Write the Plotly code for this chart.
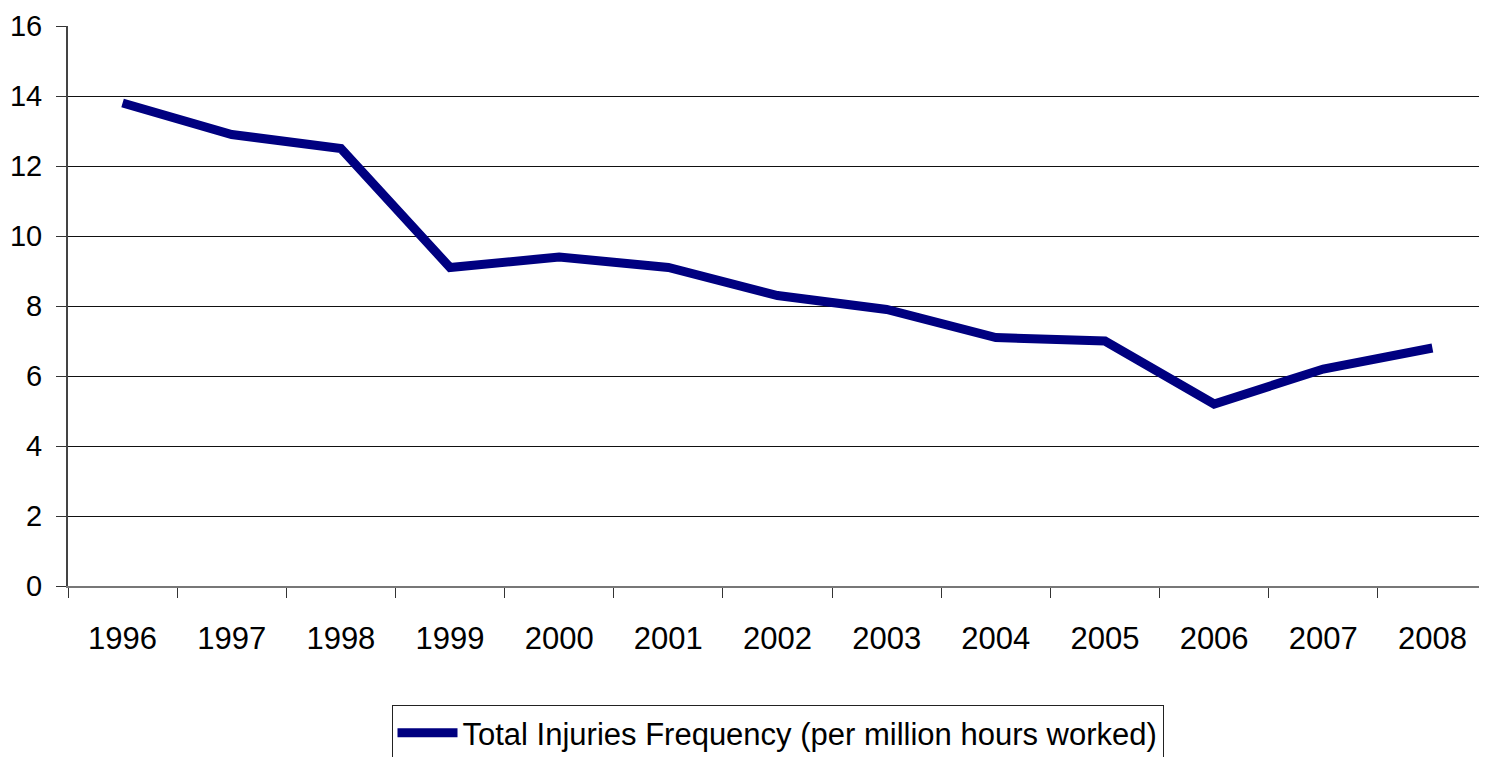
import plotly.graph_objects as go

years = ["1996", "1997", "1998", "1999", "2000", "2001", "2002", "2003", "2004", "2005", "2006", "2007", "2008"]
injury_freq = [13.8, 12.9, 12.5, 9.1, 9.4, 9.1, 8.3, 7.9, 7.1, 7.0, 5.2, 6.2, 6.8]
y_ticks = [0, 2, 4, 6, 8, 10, 12, 14, 16]
series_name = "Total Injuries Frequency (per million hours worked)"

sans = "Liberation Sans, Arial, sans-serif"

fig = go.Figure()
fig.add_trace(go.Scatter(
    x=years, y=injury_freq, mode="lines", name=series_name,
    line=dict(color="#000080", width=9),
    showlegend=True,
))

fig.update_layout(
    width=1479, height=749,
    margin=dict(l=60, r=0, t=18, b=171, autoexpand=False),
    paper_bgcolor="white", plot_bgcolor="white",
    showlegend=True,
    legend=dict(
        orientation="h", x=0.5, xanchor="center", y=-0.2125, yanchor="top",
        font=dict(family=sans, size=31, color="black"),
        bordercolor="#222", borderwidth=1, bgcolor="white",
        itemwidth=60,
    ),
    xaxis=dict(
        type="category", tickson="boundaries", ticks="outside", ticklen=10,
        tickcolor="#333", tickwidth=1,
        showline=True, linecolor="#777", linewidth=2,
        showgrid=False, zeroline=False, automargin=False,
        tickfont=dict(family=sans, size=31, color="black"),
        ticklabelstandoff=24,
        range=[-0.5, 12.5],
    ),
    yaxis=dict(
        range=[0, 16], tickvals=y_ticks, ticks="outside", ticklen=10,
        tickcolor="#333", tickwidth=1,
        showline=True, linecolor="#444", linewidth=2,
        showgrid=True, gridcolor="#111", gridwidth=1,
        zeroline=False, automargin=False,
        tickfont=dict(family=sans, size=29, color="black"),
        ticklabelstandoff=8,
    ),
)

fig.write_html("out.html")
